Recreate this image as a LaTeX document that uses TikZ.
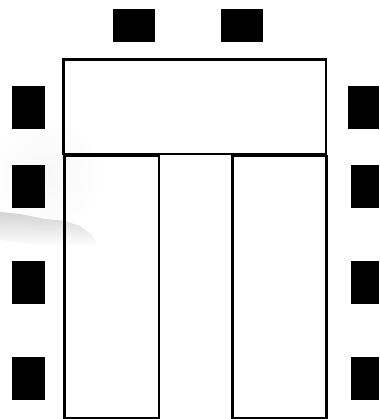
\documentclass[tikz,border=0pt]{standalone}
\usetikzlibrary{fadings}
\tikzset{
  seat/.style={fill=black,draw=none,inner sep=0pt,outer sep=0pt},
  tablebox/.style={draw=black,line width=2.5pt,fill=none},
  wingbox/.style={draw=black,line width=2.4pt,fill=none},
}
\tikzfading[name=softedge,inner color=transparent!0,outer color=transparent!100]
\tikzfading[name=fadedown,top color=transparent!0,bottom color=transparent!100]
\begin{document}
\begin{tikzpicture}[x=1pt,y=-1pt]
\useasboundingbox (0,0) rectangle (379,419);
\fill[white] (0,0) rectangle (379,419);
% faint smudge
\begin{scope}
\clip (0,0) rectangle (379,419);
\fill[black!3,path fading=softedge] (45,175) ellipse [x radius=55,y radius=55];
\fill[black!17,path fading=fadedown] (0,212) -- (20,214) -- (45,219) -- (65,221) -- (80,226) -- (92,235) -- (97,245) -- (40,246) -- (0,240) -- cycle;
\end{scope}
% seats
\fill[seat] (113,9) rectangle (155,42);
\fill[seat] (221,9) rectangle (263,42);
\fill[seat] (12,86) rectangle (45,129);
\fill[seat] (12,165) rectangle (45,208);
\fill[seat] (12,261) rectangle (45,304);
\fill[seat] (12,357) rectangle (45,400);
\fill[seat] (348,86) rectangle (379,129);
\fill[seat] (351,165) rectangle (379,208);
\fill[seat] (351,261) rectangle (379,304);
\fill[seat] (351,357) rectangle (379,400);
% tables
\draw[tablebox] (63.4,59.4) rectangle (326,154.2);
\draw[wingbox] (64.4,156) rectangle (158.8,418);
\draw[wingbox] (232.5,156) rectangle (326.6,418);
\end{tikzpicture}
\end{document}
